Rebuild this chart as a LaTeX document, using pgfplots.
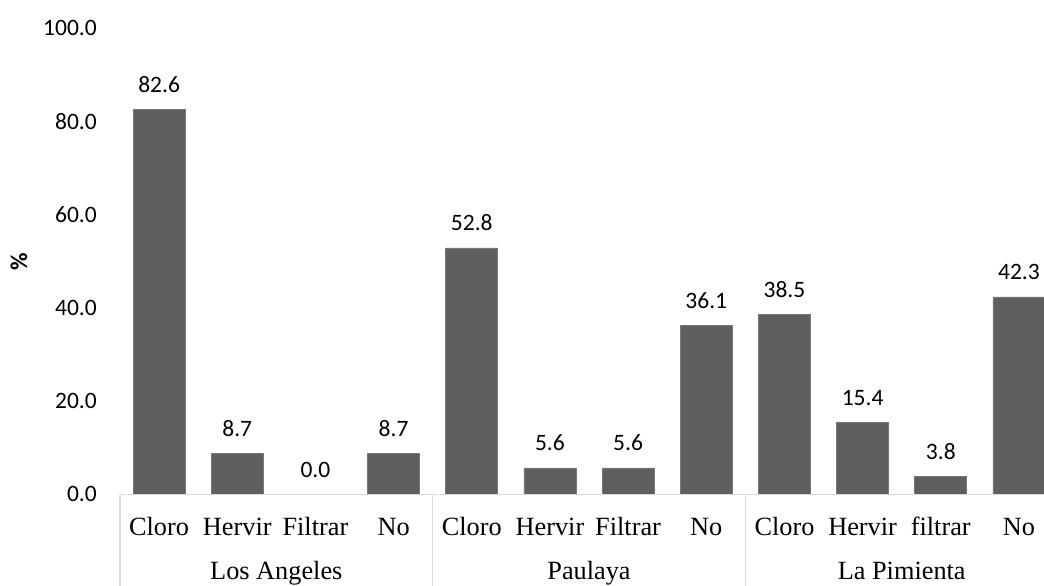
\documentclass[border=0pt]{standalone}
\usepackage{pgfplots}
\pgfplotsset{compat=1.18}
\usepackage{fontspec}
\setmainfont{Carlito}
\newfontfamily\timesf{Liberation Serif}
\definecolor{barc}{HTML}{5F5F5F}
\definecolor{linec}{HTML}{D9D9D9}
\begin{document}
\begin{tikzpicture}[x=1pt,y=1pt]
\path[use as bounding box] (0,0) rectangle (1044,-586);
\begin{axis}[
  at={(120pt,-494pt)}, anchor=south west,
  scale only axis, width=924pt, height=466pt,
  xmin=-0.5, xmax=11.3204, ymin=0, ymax=100,
  clip=true,
  axis line style={draw=none},
  xtick=\empty,
  ytick={0,20,...,100},
  major tick length=0pt,
  /pgf/number format/assume math mode=true,
  yticklabel={\pgfmathprintnumber[fixed,fixed zerofill,precision=1]{\tick}},
  yticklabel style={font=\fontsize{23.5}{28}\selectfont, anchor=east, inner sep=0pt, xshift=-23pt},
  ybar, bar width=52pt, bar shift=0pt,
  nodes near coords={\pgfmathprintnumber[fixed,fixed zerofill,precision=1,assume math mode=true]{\pgfplotspointmeta}},
  every node near coord/.append style={font=\fontsize{23.5}{28}\selectfont, anchor=base, inner sep=0pt, yshift=17pt, text=black},
]
\addplot[fill=barc, draw=barc!85!white, line width=0.6pt] coordinates {
 (0,82.6) (1,8.7) (2,0.0) (3,8.7)
 (4,52.8) (5,5.6) (6,5.6) (7,36.1)
 (8,38.5) (9,15.4) (10,3.8) (11,42.3)};
\end{axis}
\draw[linec, line width=1.3pt] (120,-494.5) -- (1044,-494.5);
\foreach \xx in {120,432.7,745.3} {\draw[linec, line width=1.3pt] (\xx,-494.5) -- (\xx,-586);}
\begin{scope}[every node/.style={anchor=base, inner sep=0pt, font=\timesf\fontsize{26.3}{30}\selectfont}]
\foreach \lab [count=\i from 0] in {Cloro,Hervir,Filtrar,No,Cloro,Hervir,Filtrar,No,Cloro,Hervir,filtrar,No} {
  \node at ({120+(\i+0.5)*78.17},-535) {\lab};
}
\node at (276.3,-579.5) {Los Angeles};
\node at (589,-579.5) {Paulaya};
\node at (901.7,-579.5) {La Pimienta};
\end{scope}
\node[rotate=90, font=\bfseries\fontsize{24}{28}\selectfont, inner sep=0pt] at (19,-262) {\%};
\end{tikzpicture}
\end{document}
